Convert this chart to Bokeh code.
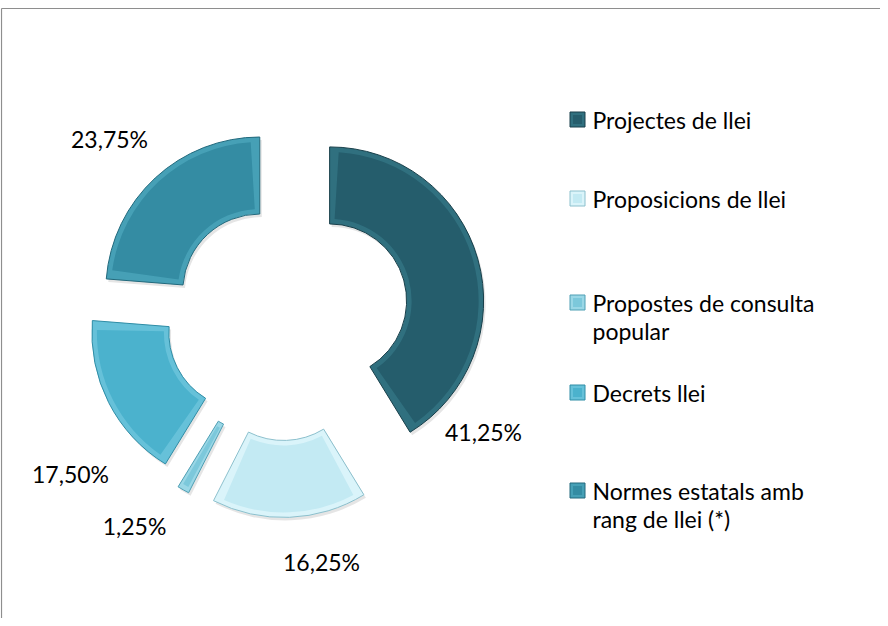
import math
from bokeh.plotting import figure
from bokeh.models import Range1d
from bokeh.core.properties import value
from bokeh.embed import file_html
from bokeh.resources import INLINE

# ---- data ----
categories = ["Projectes de llei", "Proposicions de llei",
              "Propostes de consulta popular", "Decrets llei",
              "Normes estatals amb rang de llei (*)"]
shares = [41.25, 16.25, 1.25, 17.50, 23.75]
pct_labels = ["41,25%", "16,25%", "1,25%", "17,50%", "23,75%"]
legend_lines = [["Projectes de llei"], ["Proposicions de llei"],
                ["Propostes de consulta", "popular"], ["Decrets llei"],
                ["Normes estatals amb", "rang de llei (*)"]]

# ---- styles / layout ----
main_col = ["#255D6C", "#C3EAF3", "#7CC8DB", "#4BB2CD", "#348CA3"]
edge_col = ["#30707F", "#DAF4FA", "#9AD7E6", "#66C1D9", "#46A0B6"]
line_col = ["#183F4A", "#8CC0CD", "#4F9FB4", "#2F8DA6", "#22697C"]
explode = [50, 49, 47, 40, 32]
CX, CY = 289, 322          # page pixel centre of the donut
R_OUT, R_IN = 154, 77
label_pos = [(491, 439), (329, 569), (142, 533), (78, 481), (117, 146)]
legend_y = [127, 206, 310, 400, 498]
LINE_GAP = 28
FONT = "Lato"
FS = "23px"

W, H = 880, 618
p = figure(width=W, height=H, output_backend="svg", toolbar_location=None,
           x_range=Range1d(8, 888), y_range=Range1d(0, 618), min_border=0)
p.axis.visible = False
p.grid.visible = False
p.outline_line_color = None
p.background_fill_color = "white"
p.border_fill_color = "white"

def Y(py):
    return 626 - py

# frame lines (chart area border)
p.segment(x0=[9, 9], y0=[Y(16), Y(16)], x1=[888, 9], y1=[Y(16), Y(626)],
          line_color="#8E8E8E", line_width=1.2)

total = sum(shares)
theta = 0.0
for i, s in enumerate(shares):
    t1 = theta
    t2 = theta + 360.0 * s / total
    theta = t2
    mid = math.radians((t1 + t2) / 2)
    cx = CX + explode[i] * math.sin(mid)
    cy = CY - explode[i] * math.cos(mid)
    sa = math.radians(90 - t2)
    ea = math.radians(90 - t1)
    # soft shadow
    p.annular_wedge(x=cx + 2, y=Y(cy) - 3, inner_radius=R_IN, outer_radius=R_OUT,
                    start_angle=sa, end_angle=ea, direction="anticlock",
                    fill_color="#000000", fill_alpha=0.10, line_color=None)
    # bevel edge
    p.annular_wedge(x=cx, y=Y(cy), inner_radius=R_IN, outer_radius=R_OUT,
                    start_angle=sa, end_angle=ea, direction="anticlock",
                    fill_color=edge_col[i], line_color=line_col[i], line_width=1)
    # flat face
    b = 5
    span = ea - sa
    da = min(b / (R_IN + b), span * 0.25)
    p.annular_wedge(x=cx, y=Y(cy), inner_radius=R_IN + b, outer_radius=R_OUT - b,
                    start_angle=sa + da, end_angle=ea - da, direction="anticlock",
                    fill_color=main_col[i], line_color=None)

# percentage labels
p.text(x=[q[0] for q in label_pos], y=[Y(q[1]) for q in label_pos], text=pct_labels,
       text_font=value(FONT), text_font_size=FS, text_align="center",
       text_baseline="middle", text_color="#000000")

# legend
MX, TX = 585, 600
for i, lines in enumerate(legend_lines):
    yy = legend_y[i]
    p.rect(x=MX, y=Y(yy), width=15, height=15, fill_color=edge_col[i],
           line_color=line_col[i], line_width=1)
    p.rect(x=MX, y=Y(yy), width=9, height=9, fill_color=main_col[i], line_color=None)
    p.text(x=[TX] * len(lines), y=[Y(yy + k * LINE_GAP) for k in range(len(lines))],
           text=lines, text_font=value(FONT), text_font_size=FS, text_align="left",
           text_baseline="middle", text_color="#000000")

open("out.html", "w").write(file_html(p, INLINE))
